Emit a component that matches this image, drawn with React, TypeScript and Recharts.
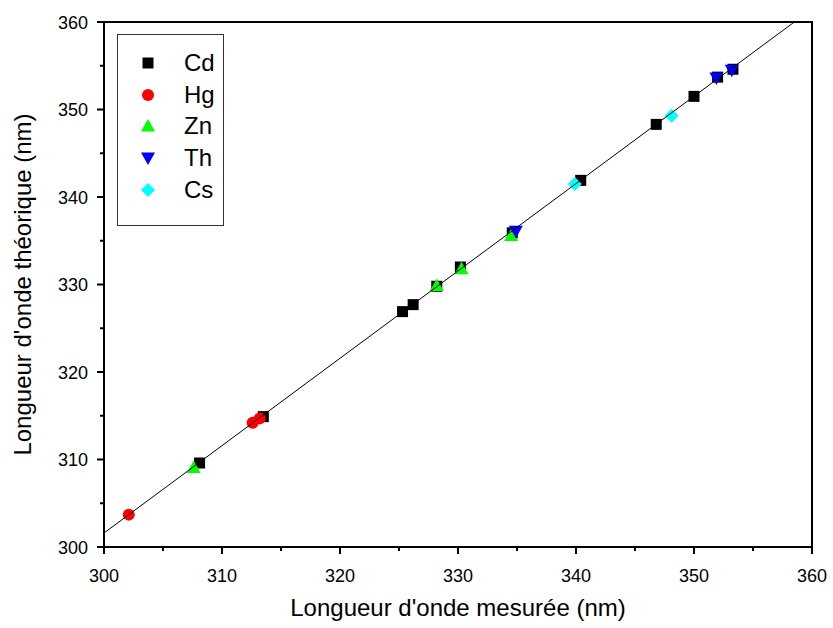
import { Legend, ReferenceArea, Scatter, ScatterChart, XAxis, YAxis } from 'recharts';

// [mesurée, théorique] pairs
const cd = [
  [308.1, 309.6], [313.5, 314.9], [325.3, 326.9], [326.2, 327.7], [328.2, 329.8],
  [330.2, 332.0], [334.6, 335.9], [340.4, 341.9], [346.8, 348.3], [350.0, 351.5],
  [352.0, 353.7], [353.3, 354.6],
];
const hg = [[302.1, 303.7], [312.6, 314.2], [313.2, 314.7]];
const zn = [[307.6, 309.1], [328.2, 329.9], [330.3, 331.8], [334.5, 335.6]];
const th = [[334.9, 336.1], [351.9, 353.6], [353.2, 354.5]];
const cs = [[339.9, 341.5], [348.1, 349.3]];
const fitLine = [[300, 301.6], [358.5, 360]];

const ticks = [300, 305, 310, 315, 320, 325, 330, 335, 340, 345, 350, 355, 360];

const toPts = (arr: number[][]) => arr.map(([x, y]) => ({ x, y }));

const FONT = '"Liberation Sans", Arial, sans-serif';

const Square = ({ cx, cy, fill }: any) => <rect x={cx - 5.5} y={cy - 5.5} width={11} height={11} fill={fill} />;
const Dot = ({ cx, cy, fill }: any) => <circle cx={cx} cy={cy} r={6} fill={fill} />;
const Up = ({ cx, cy, fill }: any) => (
  <path d={`M${cx},${cy - 7} L${cx + 7},${cy + 5.5} L${cx - 7},${cy + 5.5} Z`} fill={fill} />
);
const Down = ({ cx, cy, fill }: any) => (
  <path d={`M${cx},${cy + 7} L${cx + 7},${cy - 5.5} L${cx - 7},${cy - 5.5} Z`} fill={fill} />
);
const Diamond = ({ cx, cy, fill }: any) => (
  <path d={`M${cx},${cy - 7} L${cx + 7},${cy} L${cx},${cy + 7} L${cx - 7},${cy} Z`} fill={fill} />
);

const series = [
  { name: 'Cd', data: cd, color: '#000000', Shape: Square },
  { name: 'Hg', data: hg, color: '#ff0000', Shape: Dot },
  { name: 'Zn', data: zn, color: '#00ff00', Shape: Up },
  { name: 'Th', data: th, color: '#0000ff', Shape: Down },
  { name: 'Cs', data: cs, color: '#00ffff', Shape: Diamond },
];

const XTick = ({ x, y, payload }: any) => {
  const major = payload.value % 10 === 0;
  return (
    <g>
      <line x1={x} x2={x} y1={y} y2={y + (major ? 7 : 4)} stroke="#000" strokeWidth={2} />
      {major && (
        <text x={x} y={y + 35} textAnchor="middle" fontSize={18} fontFamily={FONT} fill="#000">
          {payload.value}
        </text>
      )}
    </g>
  );
};

const YTick = ({ x, y, payload }: any) => {
  const major = payload.value % 10 === 0;
  return (
    <g>
      <line x1={x - (major ? 7 : 4)} x2={x} y1={y} y2={y} stroke="#000" strokeWidth={2} />
      {major && (
        <text x={x - 16} y={y + 6.5} textAnchor="end" fontSize={18} fontFamily={FONT} fill="#000">
          {payload.value}
        </text>
      )}
    </g>
  );
};

const LegendBox = () => (
  <div style={{ border: '1px solid #333', width: 105, height: 178, background: '#fff', paddingTop: 12, boxSizing: 'content-box' }}>
    {series.map(({ name, color, Shape }) => (
      <div key={name} style={{ display: 'flex', alignItems: 'center', height: 31.7 }}>
        <svg width={60} height={20} style={{ display: 'block' }}>
          <Shape cx={30} cy={10} fill={color} />
        </svg>
        <span style={{ fontFamily: FONT, fontSize: 24, color: '#000', marginLeft: 6 }}>{name}</span>
      </div>
    ))}
  </div>
);

export default function App() {
  return (
    <div style={{ position: 'absolute', left: 0, top: 0, background: '#fff' }}>
      <ScatterChart width={833} height={628} margin={{ top: 22, right: 21, bottom: 21, left: 44 }}>
        <XAxis
          type="number"
          dataKey="x"
          domain={[300, 360]}
          ticks={ticks}
          interval={0}
          tickSize={0}
          tickMargin={0}
          height={60}
          axisLine={{ stroke: '#000', strokeWidth: 2 }}
          tick={<XTick />}
          label={{ value: "Longueur d'onde mesurée (nm)", position: 'insideBottom', offset: -9, fontSize: 24, fontFamily: FONT, fill: '#000' }}
        />
        <YAxis
          type="number"
          dataKey="y"
          domain={[300, 360]}
          ticks={ticks}
          interval={0}
          tickSize={0}
          tickMargin={0}
          width={60}
          axisLine={{ stroke: '#000', strokeWidth: 2 }}
          tick={<YTick />}
          label={{ value: "Longueur d'onde théorique (nm)", angle: -90, position: 'insideLeft', offset: -22, fontSize: 24, fontFamily: FONT, fill: '#000', style: { textAnchor: 'middle' } }}
        />
        <ReferenceArea x1={300} x2={360} y1={300} y2={360} fill="none" stroke="#000" strokeWidth={2} />
        {series.map(({ name, data, color, Shape }) => (
          <Scatter key={name} name={name} data={toPts(data)} fill={color} shape={<Shape />} isAnimationActive={false} />
        ))}
        <Scatter
          name="fit"
          data={toPts(fitLine)}
          line={{ stroke: '#000', strokeWidth: 1 }}
          shape={() => <g />}
          legendType="none"
          isAnimationActive={false}
        />
        <Legend
          layout="vertical"
          align="center"
          verticalAlign="middle"
          content={<LegendBox />}
          wrapperStyle={{ left: 117, top: 34, width: 'auto', height: 'auto' }}
        />
      </ScatterChart>
    </div>
  );
}
